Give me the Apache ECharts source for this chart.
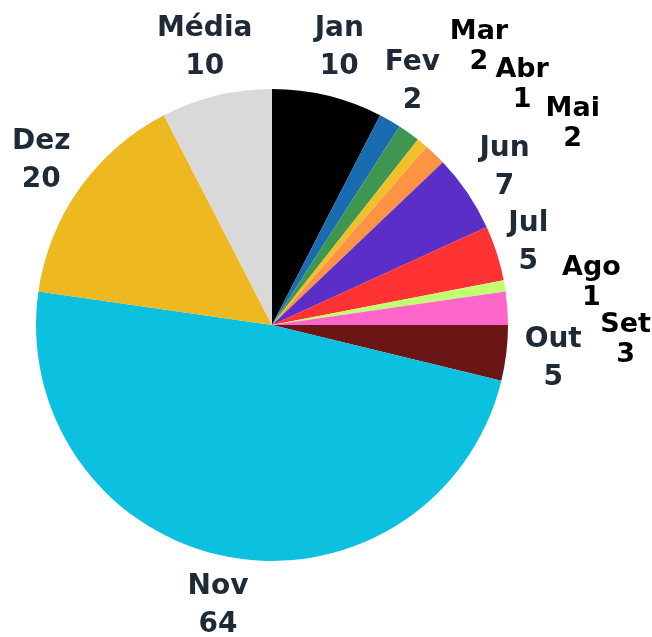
<!DOCTYPE html>
<html>
<head>
<meta charset="utf-8">
<script src="https://cdn.jsdelivr.net/npm/echarts@6/dist/echarts.min.js"></script>
<style>html,body{margin:0;padding:0;background:#fff}#c{width:652px;height:637px}</style>
</head>
<body>
<div id="c"></div>
<script>
const categories = ['Jan','Fev','Mar','Abr','Mai','Jun','Jul','Ago','Set','Out','Nov','Dez','Média'];
const values = [10,2,2,1,2,7,5,1,3,5,64,20,10];

// styling (not data)
const colors = ['#000000','#1a6cb0','#3f9650','#f0c02a','#ff9344','#5b2ec8','#ff3333','#c2ff70','#ff66cc','#6a1616','#0cc0df','#eeb820','#d9d9d9'];
const labelColors = ['#1e2a36','#1e2a36','#000000','#000000','#000000','#1e2a36','#1e2a36','#000000','#000000','#1e2a36','#1e2a36','#1e2a36','#1e2a36'];
const labelLineHeights = [38,38,30,30,30,38,38,30,30,38,38,38,38];
const labelFontSizes = [28,28,27,27,27,28,28,27,27,28,28,28,28];
const labelRadiusFactor = [1.21,1.19,1.469,1.47,1.533,1.19,1.14,1.365,1.5,1.2,1.21,1.2,1.21];
const labelAngleShift = [0,0,1.2,6.6,12.6,0,0,2.1,6.5,0,0,0,0];

const CX = 272, CY = 325, R = 236;
const total = values.reduce((a,b)=>a+b,0);
const midAngles = [];
let acc = 0;
values.forEach(v => { midAngles.push((acc + v/2) / total * 360); acc += v; });

const chart = echarts.init(document.getElementById('c'));
chart.setOption({
  animation: false,
  series: [{
    type: 'pie',
    center: [CX, CY],
    radius: [0, R],
    startAngle: 90,
    clockwise: true,
    avoidLabelOverlap: false,
    itemStyle: { borderWidth: 0 },
    label: {
      show: true,
      position: 'outside',
      formatter: '{b}\n{c}',
      fontFamily: 'DejaVu Sans',
      fontWeight: 'bold',
      fontSize: 28,
      lineHeight: 38,
      align: 'center'
    },
    labelLine: { show: false },
    labelLayout: function (p) {
      const i = p.dataIndex;
      const a = (midAngles[i] + labelAngleShift[i]) * Math.PI / 180;
      const r = R * labelRadiusFactor[i];
      return { x: CX + r * Math.sin(a), y: CY - r * Math.cos(a), align: 'center', verticalAlign: 'middle' };
    },
    emphasis: { disabled: true },
    data: categories.map((c, i) => ({
      name: c, value: values[i],
      itemStyle: { color: colors[i] },
      label: { color: labelColors[i], lineHeight: labelLineHeights[i], fontSize: labelFontSizes[i] }
    }))
  }]
});
</script>
</body>
</html>
